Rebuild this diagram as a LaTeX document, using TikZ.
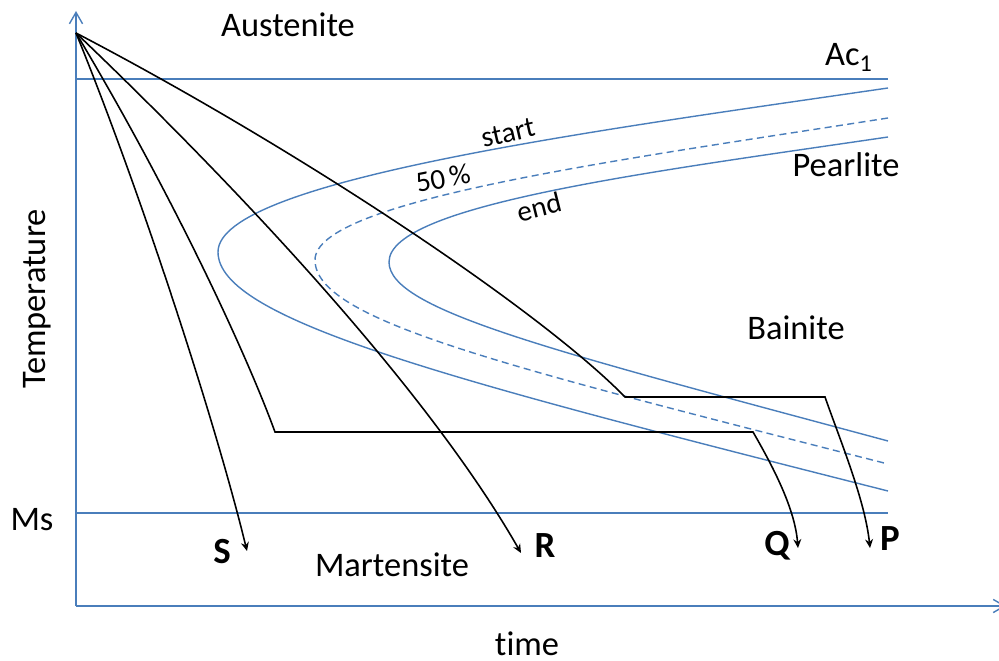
\documentclass[tikz,border=0pt]{standalone}
\usepackage{fontspec}
\setmainfont{Carlito}[Ligatures=NoCommon]
\usetikzlibrary{arrows.meta}
\definecolor{ttblue}{RGB}{74,126,187}

\begin{document}
\begin{tikzpicture}[x=0.02cm,y=-0.02cm,
  blue line/.style={draw=ttblue,line width=0.8pt},
  axis/.style={blue line,-{Straight Barb[length=6.5pt,width=7.5pt]}},
  cooling/.style={draw=black,line width=0.9pt,-{Stealth[length=5pt,width=4.5pt]}},
  lbl/.style={font=\fontsize{19.6}{23}\selectfont,anchor=base,inner sep=0pt},
  small lbl/.style={font=\fontsize{16.5}{19}\selectfont,inner sep=0pt},
  path lbl/.style={lbl,font=\fontsize{21}{24}\selectfont\bfseries}]
\useasboundingbox (0,0) rectangle (999,661);
\clip (0,0) rectangle (999,661);
\coordinate (O) at (76,33);
\coordinate (Y0) at (76,606);
\coordinate (tS) at (247,551);
\coordinate (tR) at (521,553);
\coordinate (Q1) at (275,432);
\coordinate (Q2) at (753,432);
\coordinate (tQ) at (798,548);
\coordinate (P1) at (625,397);
\coordinate (P2) at (825,397);
\coordinate (tP) at (870,548);
% axes and the two levels
\draw[axis] (Y0) -- (76,11);
\draw[axis] (Y0) -- (1006,606);
\draw[blue line] (76,79) -- (888,79);
\draw[blue line] (76,513) -- (888,513);
% start, 50 % and end curves
\draw[blue line] (888,88) .. controls (600,130) and (218,180) .. (218,252)
  .. controls (218,320) and (450,380) .. (888,491);
\draw[blue line,dash pattern=on 4pt off 2.5pt] (888,118) .. controls (620,160) and (315,200) .. (315,260)
  .. controls (315,320) and (500,365) .. (888,464);
\draw[blue line] (888,137) .. controls (650,172) and (389,205) .. (389,262)
  .. controls (389,310) and (550,350) .. (888,441);
% cooling paths
\draw[cooling] (O) .. controls (140,190) and (215,420) .. (tS);
\draw[cooling] (O) .. controls (230,180) and (425,385) .. (tR);
\draw[cooling] (O) .. controls (170,190) and (245,350) .. (Q1) -- (Q2)
  .. controls (775,470) and (795,510) .. (tQ);
\draw[cooling] (O) .. controls (300,150) and (540,310) .. (P1) -- (P2)
  .. controls (840,440) and (865,500) .. (tP);
% labels
\node[lbl] (aust) at (288,37) {Austenite};
\node[lbl] (ac1) at (849,66) {Ac\textsubscript{1}};
\node[lbl] (pearl) at (846,177) {Pearlite};
\node[lbl] (bain) at (796,340) {Bainite};
\node[lbl] (mart) at (392,576) {Martensite};
\node[lbl] (ms) at (32,530) {Ms};
\node[lbl] (time) at (527,655) {time};
\node[lbl,rotate=90] (temp) at (45,299) {Temperature};
\node[small lbl,rotate=13] (start) at (508,133) {start};
\node[small lbl,rotate=11] (half) at (443,178) {50\,\%};
\node[small lbl,rotate=14] (end) at (539,207) {end};
\node[path lbl] (S) at (222,563) {S};
\node[path lbl] (R) at (545,557) {R};
\node[path lbl] (Q) at (777,555) {Q};
\node[path lbl] (P) at (890,550) {P};
\end{tikzpicture}
\end{document}
